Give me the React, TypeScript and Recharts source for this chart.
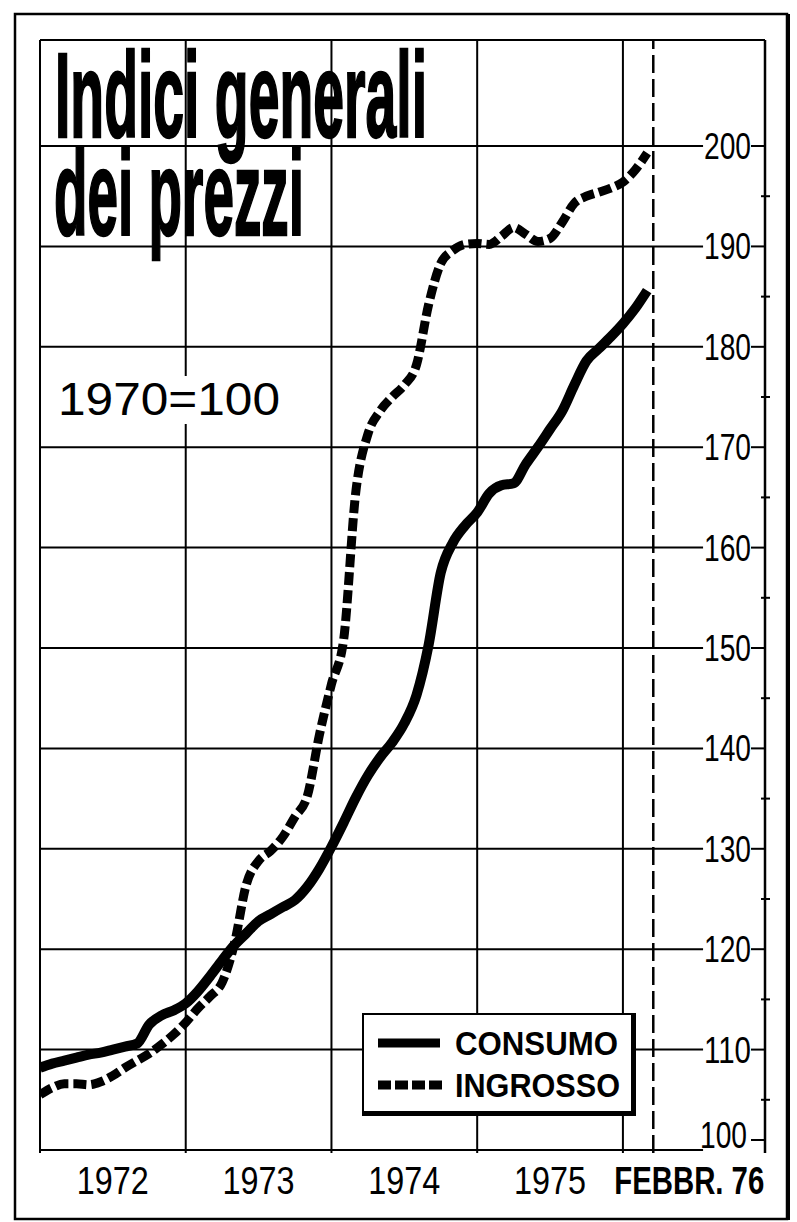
import { Legend, Line, LineChart, ReferenceLine, XAxis, YAxis } from "recharts";

// month index: 0 = gen 1972 ... 50 = febbr 1976
const consumo = [
  108.2, 108.6, 108.9, 109.2, 109.5, 109.7, 110.0, 110.3, 110.6, 112.5, 113.4, 113.9,
  114.6, 115.8, 117.3, 118.9, 120.4, 121.6, 122.8, 123.5, 124.2, 124.9, 126.2, 128.0,
  130.2, 132.6, 135.1, 137.3, 139.1, 140.6, 142.5, 145.3, 150.3, 157.5, 160.5, 162.2,
  163.5, 165.4, 166.2, 166.4, 168.3, 170.0, 171.8, 173.6, 176.2, 178.6, 179.8, 181.0,
  182.3, 183.8, 185.6,
];
const ingrosso = [
  105.5, 106.2, 106.6, 106.6, 106.5, 106.8, 107.4, 108.2, 108.9, 109.6, 110.5, 111.5,
  112.7, 114.1, 115.3, 116.7, 120.5, 126.5, 128.8, 129.8, 131.2, 133.2, 135.2, 141.3,
  146.4, 150.8, 165.5, 171.3, 173.6, 175.0, 176.2, 178.2, 184.2, 188.3, 189.6, 190.2,
  190.3, 190.2, 191.0, 191.9, 191.2, 190.5, 190.8, 192.4, 194.3, 195.0, 195.4, 195.8,
  196.4, 197.6, 199.3,
];
const yearStarts = [12, 24, 36, 48];
const yearLabels = ["1972", "1973", "1974", "1975"];
const yearMid = [6, 18, 30, 42];
const febbr76 = 50.5;
const lastLabel = "FEBBR. 76";
const gridValues = [110, 120, 130, 140, 150, 160, 170, 180, 190, 200];
const yTicks = [100, 105, 110, 115, 120, 125, 130, 135, 140, 145, 150, 155, 160, 165, 170, 175, 180, 185, 190, 195, 200];

const X_MAX = 59.7;
const Y_MIN = 99.7;
const Y_MAX = 210.56;
const GRID_END = 54.6;

const SANS = '"Liberation Sans", Arial, sans-serif';

const data = consumo.map((c, i) => ({ m: i, consumo: c, ingrosso: ingrosso[i] }));

function YTick(props: any) {
  const { x, y, payload } = props;
  const v = payload.value;
  if (v % 10 !== 0) {
    return <line x1={x - 4} x2={x + 5} y1={y} y2={y} stroke="#000" strokeWidth={2} />;
  }
  const bottom = v === yTicks[0];
  return (
    <g>
      {bottom ? (
        <path d={`M${x - 14},${y - 10} L${x},${y - 10} L${x},${y - 22}`} fill="none" stroke="#000" strokeWidth={2} />
      ) : (
        <line x1={x - 14} x2={x} y1={y} y2={y} stroke="#000" strokeWidth={2} />
      )}
      <text
        x={bottom ? x - 18 : x - 14}
        y={y}
        dy={bottom ? -2 : 13}
        textAnchor="end"
        fontFamily={SANS}
        fontSize={37}
        textLength={47}
        lengthAdjust="spacingAndGlyphs"
        fill="#000"
      >
        {v}
      </text>
    </g>
  );
}

function XTick(props: any) {
  const { x, y, payload } = props;
  const v = payload.value;
  const isLast = v === febbr76;
  const label = isLast ? lastLabel : yearLabels[yearMid.indexOf(v)];
  return (
    <text
      x={isLast ? x + 36 : x}
      y={y + 41}
      textAnchor="middle"
      fontFamily={SANS}
      fontWeight={isLast ? "bold" : "normal"}
      fontSize={38}
      textLength={isLast ? 150 : 72}
      lengthAdjust="spacingAndGlyphs"
      fill="#000"
    >
      {label}
    </text>
  );
}

function renderLegend(props: any) {
  const items = props.payload || [];
  return (
    <div
      style={{
        width: 267,
        height: 96,
        background: "#fff",
        borderTop: "2px solid #000",
        borderLeft: "2px solid #000",
        borderRight: "5px solid #000",
        borderBottom: "5px solid #000",
      }}
    >
      <svg width={267} height={96}>
        {items.map((it: any, i: number) => {
          const cy = 28 + i * 42;
          return (
            <g key={it.value}>
              <line
                x1={14}
                x2={i === 0 ? 76 : 82}
                y1={cy}
                y2={cy}
                stroke="#000"
                strokeWidth={9}
                strokeDasharray={i === 0 ? undefined : "13 4"}
              />
              <text
                x={91}
                y={cy + 12}
                fontFamily={SANS}
                fontWeight="bold"
                fontSize={33}
                textLength={i === 0 ? 163 : 165}
                lengthAdjust="spacingAndGlyphs"
              >
                {it.value}
              </text>
            </g>
          );
        })}
      </svg>
    </div>
  );
}

export default function App() {
  return (
    <div style={{ position: "absolute", left: 0, top: 0, width: 797, height: 1222, background: "#fff" }}>
      <LineChart width={797} height={1222} data={data} margin={{ top: 40, right: 0, bottom: 0, left: 40 }}>
        <XAxis
          dataKey="m"
          type="number"
          domain={[0, X_MAX]}
          allowDataOverflow
          ticks={[...yearMid, febbr76]}
          tick={<XTick />}
          axisLine={false}
          tickLine={false}
          tickSize={0}
          tickMargin={0}
          height={69}
          interval={0}
        />
        <YAxis
          orientation="right"
          type="number"
          domain={[Y_MIN, Y_MAX]}
          allowDataOverflow
          ticks={yTicks}
          tick={<YTick />}
          tickLine={false}
          tickSize={0}
          tickMargin={0}
          width={32}
          interval={0}
          axisLine={{ stroke: "#000", strokeWidth: 2.5 }}
        />
        <ReferenceLine y={Y_MAX} stroke="#000" strokeWidth={2} ifOverflow="visible" />
        <ReferenceLine x={0} stroke="#000" strokeWidth={2} ifOverflow="visible" />
        {yearStarts.map((m) => (
          <ReferenceLine key={m} x={m} stroke="#000" strokeWidth={2} />
        ))}
        {[100, ...gridValues].map((v) => (
          <ReferenceLine
            key={v}
            segment={[
              { x: 0, y: v },
              { x: GRID_END, y: v },
            ]}
            stroke="#000"
            strokeWidth={2}
            ifOverflow="visible"
          />
        ))}
        <ReferenceLine x={febbr76} stroke="#000" strokeWidth={2.5} strokeDasharray="18 6" />
        <Legend
          layout="vertical"
          align="center"
          verticalAlign="middle"
          content={renderLegend}
          wrapperStyle={{ left: 362, top: 1013, width: 274, height: 103 }}
        />
        <Line
          name="CONSUMO"
          dataKey="consumo"
          type="monotone"
          stroke="#000"
          strokeWidth={10}
          dot={false}
          isAnimationActive={false}
        />
        <Line
          name="INGROSSO"
          dataKey="ingrosso"
          type="monotone"
          stroke="#000"
          strokeWidth={9}
          strokeDasharray="13 5"
          dot={false}
          isAnimationActive={false}
        />
      </LineChart>
      <svg
        width={797}
        height={1222}
        style={{ position: "absolute", left: 0, top: 0, pointerEvents: "none" }}
      >
        <rect x={15} y={14} width={772} height={1205} fill="none" stroke="#000" strokeWidth={2.5} />
        <line x1={788} x2={788} y1={14} y2={1220} stroke="#000" strokeWidth={4} />
        <g fontFamily={SANS} fontWeight="bold" fill="#000" stroke="#000" strokeWidth={2.5}>
          <text x={55} y={137} fontSize={121} textLength={372} lengthAdjust="spacingAndGlyphs">
            Indici generali
          </text>
          <text x={54} y={235} fontSize={121} textLength={250} lengthAdjust="spacingAndGlyphs">
            dei prezzi
          </text>
        </g>
        <rect x={52} y={376} width={236} height={48} fill="#fff" />
        <text
          x={58}
          y={415}
          fontFamily={SANS}
          fontSize={46}
          textLength={222}
          lengthAdjust="spacingAndGlyphs"
          fill="#000"
        >
          1970=100
        </text>
      </svg>
    </div>
  );
}
